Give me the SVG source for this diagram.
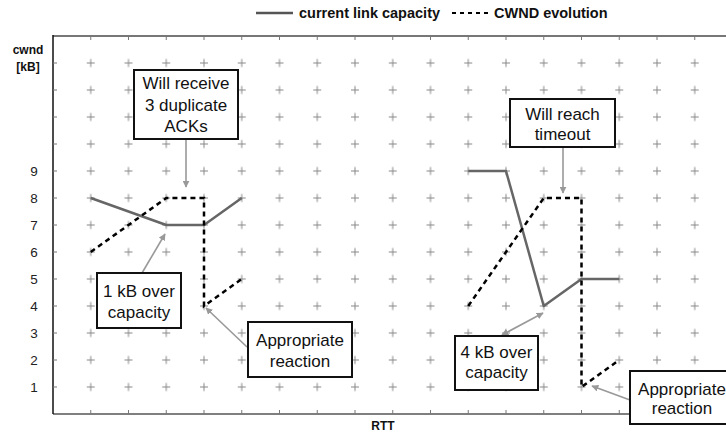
<svg xmlns="http://www.w3.org/2000/svg" width="726" height="437" viewBox="0 0 726 437">
  <style>
    .lbl { font-family: "Liberation Sans", Arial, sans-serif; font-size: 17px; fill: #111; text-anchor: middle; }
    .leg { font-family: "Liberation Sans", Arial, sans-serif; font-size: 14.5px; font-weight: bold; fill: #111; }
    .ax { font-family: "Liberation Sans", Arial, sans-serif; font-size: 12px; font-weight: bold; fill: #111; text-anchor: middle; }
    .num { font-family: "Liberation Sans", Arial, sans-serif; font-size: 13.5px; fill: #222; text-anchor: middle; }
    .box { fill: #fff; stroke: #111; stroke-width: 2; }
    .cap { fill: none; stroke: #666; stroke-width: 2.5; stroke-linejoin: round; }
    .cwnd { fill: none; stroke: #000; stroke-width: 2.5; stroke-dasharray: 5 4; }
    .call { fill: none; stroke: #999; stroke-width: 1.6; }
    .tick { fill: none; stroke: #777; stroke-width: 1; }
  </style>
  <defs>
    <!-- grid crosses, one per cell centre -->
    <pattern id="cross" patternUnits="userSpaceOnUse" x="71.875" y="49.5" width="37.75" height="27">
      <path d="M14.875,13.5 h8 M18.875,9.5 v8" stroke="#888" stroke-width="1" fill="none"/>
    </pattern>
    <marker id="ah" viewBox="0 0 10 10" refX="9" refY="5" markerWidth="7" markerHeight="7" orient="auto-start-reverse" markerUnits="userSpaceOnUse">
      <path d="M0,0 L10,5 L0,10 z" fill="#999"/>
    </marker>
  </defs>

  <!-- legend -->
  <g id="legend">
    <line x1="256" y1="13" x2="293" y2="13" stroke="#555" stroke-width="2.5"/>
    <text class="leg" x="299" y="18">current link capacity</text>
    <line x1="452" y1="13" x2="489" y2="13" stroke="#000" stroke-width="2" stroke-dasharray="4 4"/>
    <text class="leg" x="494" y="18">CWND evolution</text>
  </g>

  <!-- plot area: grid and axes -->
  <g id="grid">
    <rect x="72" y="50" width="641" height="351" fill="url(#cross)"/>
    <line x1="53" y1="36" x2="726" y2="36" stroke="#777" stroke-width="2"/>
    <line x1="53" y1="414" x2="726" y2="414" stroke="#555" stroke-width="1.5"/>
    <line x1="53" y1="35" x2="53" y2="414" stroke="#111" stroke-width="1.5"/>
    <path class="tick" d="M90.75,36v4 M128.5,36v4 M166.25,36v4 M204,36v4 M241.75,36v4 M279.5,36v4 M317.25,36v4 M355,36v4 M392.75,36v4 M430.5,36v4 M468.25,36v4 M506,36v4 M543.75,36v4 M581.5,36v4 M619.25,36v4 M657,36v4 M694.75,36v4"/>
    <path class="tick" d="M90.75,414v-4 M128.5,414v-4 M166.25,414v-4 M204,414v-4 M241.75,414v-4 M279.5,414v-4 M317.25,414v-4 M355,414v-4 M392.75,414v-4 M430.5,414v-4 M468.25,414v-4 M506,414v-4 M543.75,414v-4 M581.5,414v-4 M619.25,414v-4 M657,414v-4 M694.75,414v-4"/>
    <path class="tick" d="M53,63h4 M53,90h4 M53,117h4 M53,144h4 M53,171h4 M53,198h4 M53,225h4 M53,252h4 M53,279h4 M53,306h4 M53,333h4 M53,360h4 M53,387h4"/>
  </g>

  <g id="axis-labels">
    <text class="ax" x="28" y="54">cwnd</text>
    <text class="ax" x="28" y="71">[kB]</text>
    <text class="num" x="34" y="176">9</text>
    <text class="num" x="34" y="203">8</text>
    <text class="num" x="34" y="230">7</text>
    <text class="num" x="34" y="257">6</text>
    <text class="num" x="34" y="284">5</text>
    <text class="num" x="34" y="311">4</text>
    <text class="num" x="34" y="338">3</text>
    <text class="num" x="34" y="365">2</text>
    <text class="num" x="34" y="392">1</text>
    <text class="ax" x="383" y="430">RTT</text>
  </g>

  <!-- data series -->
  <g id="series">
    <path class="cap" d="M90.75,198 L166.25,225 L204,225 L241.75,198"/>
    <path class="cwnd" d="M90.75,252 L166.25,198 L204,198 L204,306 L241.75,279"/>
    <path class="cap" d="M468.25,171 L506,171 L543.75,306 L581.5,279 L619.25,279"/>
    <path class="cwnd" d="M468.25,306 L543.75,198 L581.5,198 L581.5,387 L619.25,360"/>
  </g>

  <!-- callout arrows -->
  <g id="connectors">
    <line class="call" x1="186" y1="139" x2="186" y2="187" marker-end="url(#ah)"/>
    <line class="call" x1="142" y1="273" x2="165" y2="234" marker-end="url(#ah)"/>
    <line class="call" x1="247" y1="347" x2="206" y2="308" marker-end="url(#ah)"/>
    <line class="call" x1="563" y1="147" x2="563" y2="193" marker-end="url(#ah)"/>
    <line class="call" x1="502" y1="335" x2="543" y2="313" marker-start="url(#ah)" marker-end="url(#ah)"/>
    <line class="call" x1="630" y1="400" x2="592" y2="386" marker-end="url(#ah)"/>
  </g>

  <!-- callout boxes -->
  <g id="dup-acks">
    <rect class="box" x="134" y="70" width="104" height="69"/>
    <text class="lbl" x="186" y="89">Will receive</text>
    <text class="lbl" x="186" y="111">3 duplicate</text>
    <text class="lbl" x="186" y="132">ACKs</text>
  </g>
  <g id="over-1kb">
    <rect class="box" x="97" y="273" width="84" height="55"/>
    <text class="lbl" x="139" y="297">1 kB over</text>
    <text class="lbl" x="139" y="318">capacity</text>
  </g>
  <g id="reaction-1">
    <rect class="box" x="248" y="322" width="104" height="55"/>
    <text class="lbl" x="300" y="346">Appropriate</text>
    <text class="lbl" x="300" y="367">reaction</text>
  </g>
  <g id="timeout">
    <rect class="box" x="510" y="99" width="105" height="48"/>
    <text class="lbl" x="562.5" y="120">Will reach</text>
    <text class="lbl" x="562.5" y="140">timeout</text>
  </g>
  <g id="over-4kb">
    <rect class="box" x="455" y="336" width="83" height="54"/>
    <text class="lbl" x="496.5" y="358">4 kB over</text>
    <text class="lbl" x="496.5" y="378">capacity</text>
  </g>
  <g id="reaction-2">
    <rect class="box" x="630" y="371" width="110" height="53"/>
    <text class="lbl" x="682" y="395">Appropriate</text>
    <text class="lbl" x="682" y="414">reaction</text>
  </g>
</svg>
